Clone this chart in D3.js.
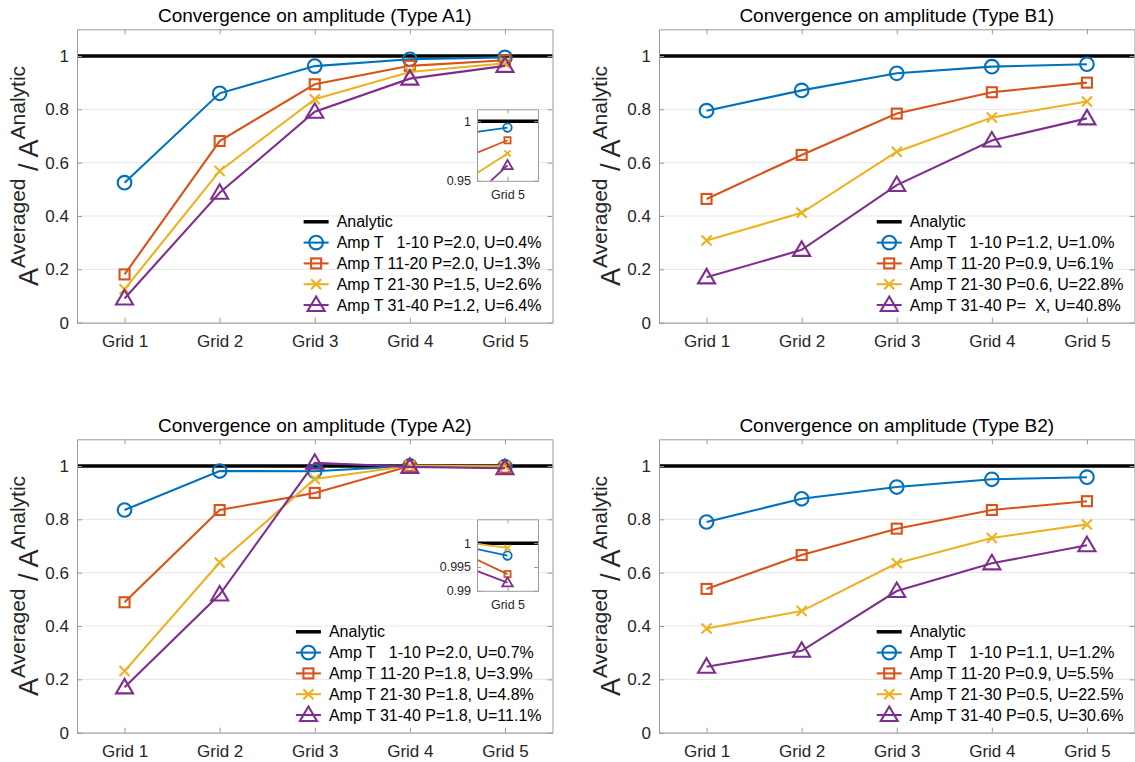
<!DOCTYPE html>
<html>
<head>
<meta charset="utf-8">
<script src="https://cdn.jsdelivr.net/npm/d3@7"></script>
<style>
body { margin: 0; background: #fff; }
svg text { font-family: "Liberation Sans", Arial, Helvetica, sans-serif; white-space: pre; }
</style>
</head>
<body>
<div id="container"></div>
<script>
var w = 1135;
var h = 762;

// categories + ticks
var grids = ["Grid 1", "Grid 2", "Grid 3", "Grid 4", "Grid 5"];
var yTicks = [0, 0.2, 0.4, 0.6, 0.8, 1];
var insetTicksA1 = [0.95, 1];
var insetTicksA2 = [0.99, 0.995, 1];
var analytic = [1, 1, 1, 1, 1];

// series values (Amp T 1-10, 11-20, 21-30, 31-40)
var typeA1 = [
  [0.525, 0.860, 0.962, 0.9875, 0.9947],
  [0.181, 0.681, 0.894, 0.963, 0.984],
  [0.125, 0.569, 0.838, 0.940, 0.973],
  [0.091, 0.487, 0.791, 0.915, 0.963]
];
var typeB1 = [
  [0.795, 0.871, 0.935, 0.960, 0.969],
  [0.464, 0.629, 0.784, 0.864, 0.900],
  [0.308, 0.412, 0.641, 0.769, 0.829],
  [0.170, 0.273, 0.516, 0.683, 0.766]
];
var typeA2 = [
  [0.835, 0.981, 0.980, 1.0001, 0.9974],
  [0.489, 0.835, 0.899, 0.9995, 0.9935],
  [0.231, 0.638, 0.951, 1.0007, 0.9990],
  [0.170, 0.518, 1.012, 0.9966, 0.9917]
];
var typeB2 = [
  [0.790, 0.877, 0.921, 0.950, 0.958],
  [0.539, 0.666, 0.765, 0.835, 0.868],
  [0.391, 0.456, 0.635, 0.730, 0.781],
  [0.2475, 0.307, 0.531, 0.635, 0.703]
];

var legendA1 = ["Amp T   1-10 P=2.0, U=0.4%", "Amp T 11-20 P=2.0, U=1.3%", "Amp T 21-30 P=1.5, U=2.6%", "Amp T 31-40 P=1.2, U=6.4%"];
var legendB1 = ["Amp T   1-10 P=1.2, U=1.0%", "Amp T 11-20 P=0.9, U=6.1%", "Amp T 21-30 P=0.6, U=22.8%", "Amp T 31-40 P=  X, U=40.8%"];
var legendA2 = ["Amp T   1-10 P=2.0, U=0.7%", "Amp T 11-20 P=1.8, U=3.9%", "Amp T 21-30 P=1.8, U=4.8%", "Amp T 31-40 P=1.8, U=11.1%"];
var legendB2 = ["Amp T   1-10 P=1.1, U=1.2%", "Amp T 11-20 P=0.9, U=5.5%", "Amp T 21-30 P=0.5, U=22.5%", "Amp T 31-40 P=0.5, U=30.6%"];

var colors = ["#0072BD", "#D95319", "#EDB120", "#7E2F8E"];
var markers = ["circle", "square", "x", "triangle"];

var panels = [
  {title: "Convergence on amplitude (Type A1)", data: typeA1, legend: legendA1, left: 77, top: 29.3, inset: {ticks: insetTicksA1, lo: 0.95, hi: 1.01}},
  {title: "Convergence on amplitude (Type B1)", data: typeB1, legend: legendB1, left: 659, top: 29.3, inset: null},
  {title: "Convergence on amplitude (Type A2)", data: typeA2, legend: legendA2, left: 77, top: 439.3, inset: {ticks: insetTicksA2, lo: 0.99, hi: 1.005}},
  {title: "Convergence on amplitude (Type B2)", data: typeB2, legend: legendB2, left: 659, top: 439.3, inset: null}
];

var axW = 475.5, axH = 293.4;
var boxColor = "#9a9a9a", txtColor = "#262626";

var svg = d3.select("#container").append("svg")
  .attr("width", w).attr("height", h)
  .style("background-color", "#fff");

function drawMarker(sel, type, color, k, sw) {
  k = k || 1;
  if (type == "circle") {
    sel.append("circle").attr("r", 6.8 * k);
  } else if (type == "square") {
    sel.append("rect").attr("x", -5 * k).attr("y", -5 * k).attr("width", 10 * k).attr("height", 10 * k);
  } else if (type == "x") {
    sel.append("path").attr("d", "M" + (-5 * k) + "," + (-5 * k) + "L" + (5 * k) + "," + (5 * k) + "M" + (-5 * k) + "," + (5 * k) + "L" + (5 * k) + "," + (-5 * k));
  } else {
    sel.append("path").attr("d", "M0," + (-8.5 * k) + "L" + (8.5 * k) + "," + (6 * k) + "L" + (-8.5 * k) + "," + (6 * k) + "Z");
  }
  sel.selectAll("*").attr("fill", "none").attr("stroke", color).attr("stroke-width", sw || 2.1);
}

function styleAxis(a) {
  a.select(".domain").attr("stroke", boxColor);
  a.selectAll(".tick line").attr("stroke", boxColor);
  a.selectAll(".tick text").attr("fill", txtColor).attr("font-family", null);
}

panels.forEach(function(p, pi) {
  var g = svg.append("g");
  var x = d3.scaleLinear().domain([0.5, 5.5]).range([p.left, p.left + axW]);
  var y = d3.scaleLinear().domain([0, 1.1]).range([p.top + axH, p.top]);
  var bottom = p.top + axH, right = p.left + axW;

  // grid
  g.append("g").selectAll("line")
    .data(yTicks)
    .enter().append("line")
    .attr("x1", p.left).attr("x2", right)
    .attr("y1", function(d) { return y(d); }).attr("y2", function(d) { return y(d); })
    .attr("stroke", "#e6e6e6").attr("stroke-width", 1);

  // analytic line
  var line = d3.line()
    .x(function(d, i) { return x(i + 1); })
    .y(function(d) { return y(d); });
  g.append("line")
    .attr("x1", p.left).attr("x2", right)
    .attr("y1", y(analytic[0])).attr("y2", y(analytic[0]))
    .attr("stroke", "#000").attr("stroke-width", 3.5);

  // series
  p.data.forEach(function(s, si) {
    g.append("path").datum(s)
      .attr("d", line)
      .attr("fill", "none")
      .attr("stroke", colors[si])
      .attr("stroke-width", 2.1);
    s.forEach(function(v, i) {
      var m = g.append("g").attr("transform", "translate(" + x(i + 1) + "," + y(v) + ")");
      drawMarker(m, markers[si], colors[si]);
    });
  });

  // axes
  var xb = g.append("g").attr("transform", "translate(0," + bottom + ")")
    .call(d3.axisBottom(x).tickValues([1, 2, 3, 4, 5]).tickFormat(function(d) { return grids[d - 1]; })
      .tickSizeInner(-5).tickSizeOuter(0).tickPadding(12))
    .attr("font-size", 17);
  styleAxis(xb);
  var xt = g.append("g").attr("transform", "translate(0," + p.top + ")")
    .call(d3.axisTop(x).tickValues([1, 2, 3, 4, 5]).tickFormat("").tickSizeInner(-5).tickSizeOuter(0));
  styleAxis(xt);
  var yl = g.append("g").attr("transform", "translate(" + p.left + ",0)")
    .call(d3.axisLeft(y).tickValues(yTicks).tickFormat(function(d) { return String(d); })
      .tickSizeInner(-5).tickSizeOuter(0).tickPadding(8))
    .attr("font-size", 17);
  styleAxis(yl);
  var yr = g.append("g").attr("transform", "translate(" + right + ",0)")
    .call(d3.axisRight(y).tickValues(yTicks).tickFormat("").tickSizeInner(-5).tickSizeOuter(0));
  styleAxis(yr);

  // title
  g.append("text")
    .attr("x", (p.left + right) / 2)
    .attr("y", p.top - 7)
    .attr("text-anchor", "middle")
    .attr("font-size", 19)
    .attr("fill", "#000")
    .text(p.title);

  // y label
  var lab = g.append("text")
    .attr("transform", "translate(" + (p.left - 39) + "," + (p.top + axH / 2) + ") rotate(-90)")
    .attr("text-anchor", "middle")
    .attr("fill", txtColor);
  lab.append("tspan").attr("font-size", 27).text("A");
  lab.append("tspan").attr("font-size", 21).attr("dy", -13).text("Averaged");
  lab.append("tspan").attr("font-size", 27).attr("dy", 13).text(" / A");
  lab.append("tspan").attr("font-size", 21).attr("dy", -13).text("Analytic");

  // legend
  var entries = [{label: "Analytic", color: "#000", marker: null}];
  p.legend.forEach(function(t, i) { entries.push({label: t, color: colors[i], marker: markers[i]}); });
  var lg = g.append("g");
  var maxW = 0;
  entries.forEach(function(e, i) {
    var row = lg.append("g").attr("transform", "translate(0," + (i * 20.8) + ")");
    row.append("line").attr("x1", 0).attr("x2", 25).attr("y1", 0).attr("y2", 0)
      .attr("stroke", e.color).attr("stroke-width", e.marker ? 2.1 : 3.5);
    if (e.marker) {
      var m = row.append("g").attr("transform", "translate(12.5,0)");
      drawMarker(m, e.marker, e.color);
    }
    var t = row.append("text").attr("x", 33).attr("dy", "0.35em")
      .attr("font-size", 16).attr("fill", "#000")
      .attr("xml:space", "preserve")
      .text(e.label);
    maxW = Math.max(maxW, t.node().getComputedTextLength());
  });
  lg.attr("transform", "translate(" + (right - 11 - maxW - 33) + "," + (bottom - 17.7 - 4 * 20.8) + ")");

  // inset
  if (p.inset) {
    var il = p.left + 400, iw = 61, it = p.top + 80, ih = 71.5;
    var ix = d3.scaleLinear().domain([4.5, 5.5]).range([il, il + iw]);
    var iy = d3.scaleLinear().domain([p.inset.lo, p.inset.hi]).range([it + ih, it]);
    var ig = g.append("g");
    ig.append("rect").attr("x", il).attr("y", it).attr("width", iw).attr("height", ih).attr("fill", "#fff");
    var cid = "clip" + pi;
    ig.append("clipPath").attr("id", cid).append("rect")
      .attr("x", il).attr("y", it).attr("width", iw).attr("height", ih);
    var inner = ig.append("g").attr("clip-path", "url(#" + cid + ")");
    var iline = d3.line()
      .x(function(d, i) { return ix(i + 1); })
      .y(function(d) { return iy(d); });
    inner.append("line")
      .attr("x1", il).attr("x2", il + iw)
      .attr("y1", iy(analytic[4])).attr("y2", iy(analytic[4]))
      .attr("stroke", "#000").attr("stroke-width", 3.5);
    p.data.forEach(function(s, si) {
      inner.append("path").datum(s)
        .attr("d", iline)
        .attr("fill", "none")
        .attr("stroke", colors[si])
        .attr("stroke-width", 1.8);
      var m = inner.append("g").attr("transform", "translate(" + ix(5) + "," + iy(s[4]) + ")");
      drawMarker(m, markers[si], colors[si], 0.62, 1.8);
    });
    var ixb = ig.append("g").attr("transform", "translate(0," + (it + ih) + ")")
      .call(d3.axisBottom(ix).tickValues([5]).tickFormat(function(d) { return grids[d - 1]; })
        .tickSizeInner(-4).tickSizeOuter(0).tickPadding(9))
      .attr("font-size", 12.5);
    styleAxis(ixb);
    var ixt = ig.append("g").attr("transform", "translate(0," + it + ")")
      .call(d3.axisTop(ix).tickValues([5]).tickFormat("").tickSizeInner(-4).tickSizeOuter(0));
    styleAxis(ixt);
    var iyl = ig.append("g").attr("transform", "translate(" + il + ",0)")
      .call(d3.axisLeft(iy).tickValues(p.inset.ticks).tickFormat(function(d) { return String(d); })
        .tickSizeInner(-4).tickSizeOuter(0).tickPadding(6))
      .attr("font-size", 12.5);
    styleAxis(iyl);
    var iyr = ig.append("g").attr("transform", "translate(" + (il + iw) + ",0)")
      .call(d3.axisRight(iy).tickValues(p.inset.ticks).tickFormat("").tickSizeInner(-4).tickSizeOuter(0));
    styleAxis(iyr);
  }
});
</script>
</body>
</html>
